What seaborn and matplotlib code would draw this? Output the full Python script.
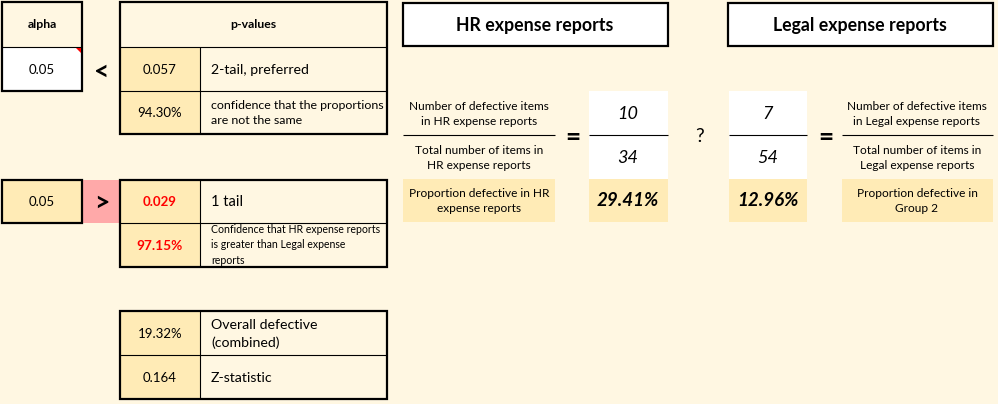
import matplotlib
matplotlib.use('Agg')
import matplotlib.pyplot as plt
from matplotlib.patches import Rectangle, Polygon
import seaborn as sns

sns.set_theme(style='white')
plt.rcParams['font.family'] = ['Lato', 'DejaVu Sans']

# values shown in the sheet
alpha = '0.05'
two_tail = ['0.057', '94.30%']
two_tail_labels = ['2-tail, preferred', 'confidence that the proportions\nare not the same']
one_tail = ['0.029', '97.15%']
one_tail_labels = ['1 tail', 'Confidence that HR expense reports\nis greater than Legal expense\nreports']
summary = ['19.32%', '0.164']
summary_labels = ['Overall defective\n(combined)', 'Z-statistic']
groups = ['HR expense reports', 'Legal expense reports']
defective = [10, 7]
totals = [34, 54]
proportions = ['29.41%', '12.96%']
hr_labels = ['Number of defective items\nin HR expense reports',
             'Total number of items in\nHR expense reports',
             'Proportion defective in HR\nexpense reports']
legal_labels = ['Number of defective items\nin Legal expense reports',
                'Total number of items in\nLegal expense reports',
                'Proportion defective in\nGroup 2']

bg = '#FFF7E2'
cell = '#FFEBB6'
pink = '#FFA9A9'

fig = plt.figure(figsize=(9.98, 4.04), dpi=100)
fig.patch.set_facecolor(bg)
ax = fig.add_axes([0, 0, 1, 1])
ax.set_xlim(0, 998)
ax.set_ylim(404, 0)
ax.axis('off')


def box(x0, y0, x1, y1, fc=None, lw=0.0):
    ax.add_patch(Rectangle((x0, y0), x1 - x0, y1 - y0,
                           facecolor=fc if fc else 'none',
                           edgecolor='black' if lw else 'none',
                           linewidth=lw, zorder=1 if fc and not lw else 2))


def txt(x, y, s, size=10, weight='normal', style='normal', color='black', ha='center', ls=1.45):
    ax.text(x, y, s, fontsize=size, fontweight=weight, fontstyle=style,
            color=color, ha=ha, va='center', linespacing=ls, zorder=3)


def hline(x0, x1, y, lw=0.8):
    ax.plot([x0, x1], [y, y], color='black', linewidth=lw, zorder=2, solid_capstyle='butt')


def vline(x, y0, y1, lw=0.8):
    ax.plot([x, x], [y0, y1], color='black', linewidth=lw, zorder=2, solid_capstyle='butt')


# alpha box
box(2, 47, 82, 91, fc='white')
box(2, 2, 82, 91, lw=1.6)
hline(2, 82, 47)
ax.add_patch(Polygon([[76, 48], [81, 48], [81, 53]], closed=True, facecolor='red',
                     edgecolor='none', zorder=3))
txt(42, 25, 'alpha', size=8.8, weight='bold')
txt(42, 70, alpha, size=9.5)
txt(102, 72, '<', size=19, weight='bold')

# p-values box
box(120, 47, 200, 134, fc=cell)
box(120, 2, 387, 134, lw=1.6)
hline(120, 387, 47)
hline(120, 387, 91)
vline(200, 47, 134)
txt(253, 25, 'p-values', size=8.8, weight='bold')
txt(160, 70, two_tail[0], size=9.5)
txt(160, 113, two_tail[1], size=9.5)
txt(211, 70, two_tail_labels[0], size=10.2, ha='left')
txt(211, 113, two_tail_labels[1], size=8.9, ha='left')

# one tail
box(82, 180, 120, 223, fc=pink)
box(2, 180, 82, 223, fc=cell)
box(2, 180, 82, 223, lw=1.6)
txt(42, 202, alpha, size=9.5)
txt(102, 203, '>', size=19, weight='bold')
box(120, 180, 200, 267, fc=cell)
box(120, 180, 387, 267, lw=1.6)
hline(120, 387, 223)
vline(200, 180, 267)
txt(160, 202, one_tail[0], size=9.5, weight='bold', color='red')
txt(160, 246, one_tail[1], size=9.8, weight='bold', color='red')
txt(211, 202, one_tail_labels[0], size=10.5, ha='left')
txt(211, 245, one_tail_labels[1], size=7.6, ha='left', ls=1.45)

# summary
box(120, 311, 200, 399, fc=cell)
box(120, 311, 387, 399, lw=1.6)
hline(120, 387, 355)
vline(200, 311, 399)
txt(160, 334, summary[0], size=9.5)
txt(160, 378, summary[1], size=9.5)
txt(211, 334, summary_labels[0], size=10.2, ha='left', ls=1.45)
txt(211, 378, summary_labels[1], size=10.2, ha='left')

# group headers
box(403, 3, 668, 46, fc='white')
box(403, 3, 668, 46, lw=1.6)
txt(535, 26, groups[0], size=12.8, weight='bold')
box(728, 3, 993, 46, fc='white')
box(728, 3, 993, 46, lw=1.6)
txt(860, 26, groups[1], size=12.8, weight='bold')

# HR fraction
txt(479, 114, hr_labels[0], size=8.6)
hline(403, 555, 135)
txt(479, 158, hr_labels[1], size=8.6)
box(403, 179, 555, 222, fc=cell)
txt(479, 201, hr_labels[2], size=8.6)
txt(573, 137, '=', size=19, weight='bold')
box(589, 91, 668, 179, fc='white')
hline(589, 668, 135)
txt(628, 114, str(defective[0]), size=13, style='italic')
txt(628, 158, str(totals[0]), size=13, style='italic')
box(589, 179, 668, 222, fc=cell)
txt(628, 201, proportions[0], size=13.5, weight='bold', style='italic')

txt(700, 137, '?', size=14)

# Legal fraction
box(729, 91, 807, 179, fc='white')
hline(729, 807, 135)
txt(768, 114, str(defective[1]), size=13, style='italic')
txt(768, 158, str(totals[1]), size=13, style='italic')
box(729, 179, 807, 222, fc=cell)
txt(768, 201, proportions[1], size=13.5, weight='bold', style='italic')
txt(826, 137, '=', size=19, weight='bold')
txt(917, 114, legal_labels[0], size=8.6)
hline(842, 993, 135)
txt(917, 158, legal_labels[1], size=8.6)
box(842, 179, 993, 222, fc=cell)
txt(917, 201, legal_labels[2], size=8.6)

fig.savefig('out.png', dpi=100, facecolor=bg)
